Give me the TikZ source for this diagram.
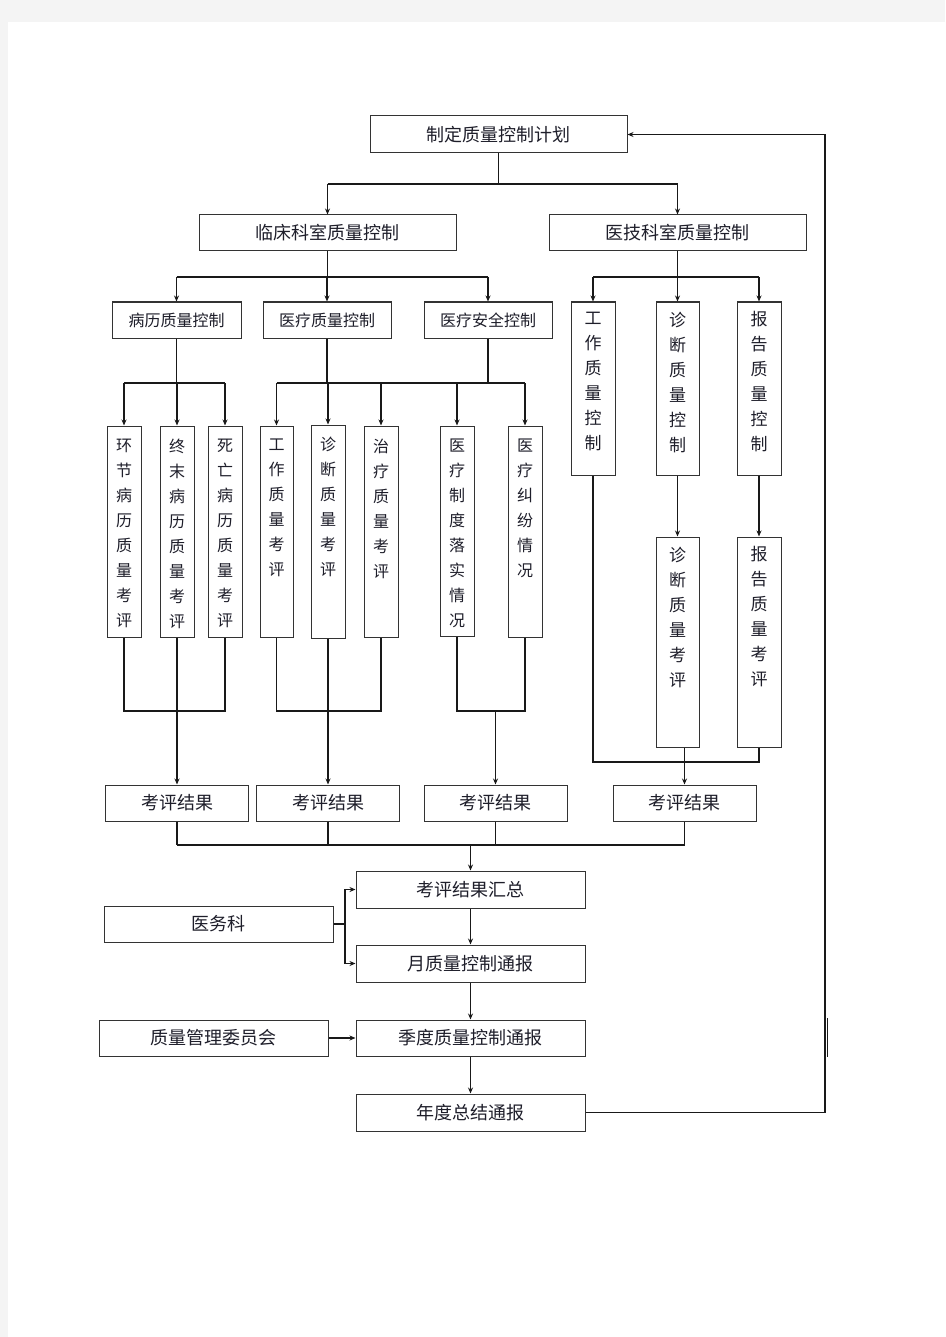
\documentclass[tikz,border=0pt]{standalone}
\usepackage{fontspec}
\setmainfont{Noto Sans CJK SC}
\usetikzlibrary{arrows.meta,calc}
\definecolor{pagegray}{HTML}{F4F4F4}
\definecolor{edge}{HTML}{333333}
\definecolor{ink}{HTML}{1E1E2A}
\begin{document}
\begin{tikzpicture}[x=1pt,y=-1pt,
  box/.style={draw=edge, line width=1pt, fill=white, inner sep=0pt, text=ink, font=\fontsize{18}{20}\selectfont},
  sbox/.style={box, font=\fontsize{16}{18}\selectfont},
  vbox/.style={draw=edge, line width=1pt, fill=white, inner sep=0pt},
  vtxt/.style={inner sep=0pt, align=center, text=ink, font=\fontsize{16}{25}\selectfont},
  conn/.style={line width=1.8pt, draw=black!90},
  thin/.style={line width=1.2pt, draw=black!90},
  arr/.style={conn, -{Stealth[length=6pt,width=5pt]}},
  tarr/.style={thin, -{Stealth[length=6pt,width=5pt]}},
]
\useasboundingbox (0,0) rectangle (945,1337);
\fill[pagegray] (0,0) rectangle (945,1337);
\fill[white] (8,22) rectangle (945,1337);

% horizontal boxes
\node[box, minimum width=257pt, minimum height=37pt] (plan) at (498.5,134.5) {制定质量控制计划};
\node[box, minimum width=257pt, minimum height=36pt] (clin) at (327.5,233) {临床科室质量控制};
\node[box, minimum width=257pt, minimum height=36pt] (tech) at (677.5,233) {医技科室质量控制};
\node[sbox, minimum width=129pt, minimum height=36pt] (bl) at (176.5,320) {病历质量控制};
\node[sbox, minimum width=128pt, minimum height=36pt] (yl) at (327,320) {医疗质量控制};
\node[sbox, minimum width=128pt, minimum height=36pt] (aq) at (488,320) {医疗安全控制};

% vertical boxes, left
\node[vbox, minimum width=34pt, minimum height=211pt] (v1) at (124,531.5) {};
\node[vbox, minimum width=34pt, minimum height=211pt] (v2) at (177,531.5) {};
\node[vbox, minimum width=34pt, minimum height=211pt] (v3) at (225,531.5) {};
\node[vbox, minimum width=33pt, minimum height=211pt] (v4) at (276.5,531.5) {};
\node[vbox, minimum width=34pt, minimum height=213pt] (v5) at (328,531.5) {};
\node[vbox, minimum width=34pt, minimum height=211pt] (v6) at (381,531.5) {};
\node[vbox, minimum width=34pt, minimum height=210pt] (v7) at (457,531) {};
\node[vbox, minimum width=34pt, minimum height=211pt] (v8) at (525,531.5) {};
\node[vtxt, anchor=north] (v1t) at ([yshift=-13pt]v1.north) {环\\节\\病\\历\\质\\量\\考\\评};
\node[vtxt, anchor=north] (v2t) at ([yshift=-13pt]v2.north) {终\\末\\病\\历\\质\\量\\考\\评};
\node[vtxt, anchor=north] (v3t) at ([yshift=-13pt]v3.north) {死\\亡\\病\\历\\质\\量\\考\\评};
\node[vtxt, anchor=north] (v4t) at ([yshift=-13pt]v4.north) {工\\作\\质\\量\\考\\评};
\node[vtxt, anchor=north] (v5t) at ([yshift=-12pt]v5.north) {诊\\断\\质\\量\\考\\评};
\node[vtxt, anchor=north] (v6t) at ([yshift=-13pt]v6.north) {治\\疗\\质\\量\\考\\评};
\node[vtxt, anchor=north] (v7t) at ([yshift=-13pt]v7.north) {医\\疗\\制\\度\\落\\实\\情\\况};
\node[vtxt, anchor=north] (v8t) at ([yshift=-13pt]v8.north) {医\\疗\\纠\\纷\\情\\况};

% vertical boxes, right
\node[vbox, minimum width=44pt, minimum height=173pt] (w1) at (593,388.5) {};
\node[vbox, minimum width=43pt, minimum height=173pt] (w2) at (677.5,388.5) {};
\node[vbox, minimum width=44pt, minimum height=173pt] (w3) at (759,388.5) {};
\node[vbox, minimum width=43pt, minimum height=210pt] (w4) at (677.5,642) {};
\node[vbox, minimum width=44pt, minimum height=210pt] (w5) at (759,642) {};
\node[vtxt, anchor=north, font=\fontsize{17}{25}\selectfont] (w1t) at ([yshift=-10pt]w1.north) {工\\作\\质\\量\\控\\制};
\node[vtxt, anchor=north, font=\fontsize{17}{25}\selectfont] (w2t) at ([yshift=-10pt]w2.north) {诊\\断\\质\\量\\控\\制};
\node[vtxt, anchor=north, font=\fontsize{17}{25}\selectfont] (w3t) at ([yshift=-10pt]w3.north) {报\\告\\质\\量\\控\\制};
\node[vtxt, anchor=north, font=\fontsize{17}{25}\selectfont] (w4t) at ([yshift=-10pt]w4.north) {诊\\断\\质\\量\\考\\评};
\node[vtxt, anchor=north, font=\fontsize{17}{25}\selectfont] (w5t) at ([yshift=-10pt]w5.north) {报\\告\\质\\量\\考\\评};

% result boxes
\node[box, minimum width=143pt, minimum height=36pt] (r1) at (177,803) {考评结果};
\node[box, minimum width=143pt, minimum height=36pt] (r2) at (328,803) {考评结果};
\node[box, minimum width=143pt, minimum height=36pt] (r3) at (495.5,803) {考评结果};
\node[box, minimum width=143pt, minimum height=36pt] (r4) at (684.5,803) {考评结果};

\node[box, minimum width=229pt, minimum height=37pt] (sum) at (470.5,889.5) {考评结果汇总};
\node[box, minimum width=229pt, minimum height=36pt] (ywk) at (218.5,924) {医务科};
\node[box, minimum width=229pt, minimum height=37pt] (month) at (470.5,963.5) {月质量控制通报};
\node[box, minimum width=229pt, minimum height=36pt] (qc) at (213.5,1038) {质量管理委员会};
\node[box, minimum width=229pt, minimum height=36pt] (quarter) at (470.5,1038) {季度质量控制通报};
\node[box, minimum width=229pt, minimum height=37pt] (year) at (470.5,1112.5) {年度总结通报};

% level 1
\coordinate (ja) at (0,184);
\draw[conn] (plan.south) -- (plan.south |- ja);
\draw[conn] (clin.north |- ja) -- (tech.north |- ja);
\draw[arr] (clin.north |- ja) -- (clin.north);
\draw[arr] (tech.north |- ja) -- (tech.north);

% level 2
\coordinate (jb) at (0,277);
\draw[conn] (clin.south) -- (clin.south |- jb);
\draw[conn] (bl.north |- jb) -- (aq.north |- jb);
\foreach \n in {bl,yl,aq} \draw[arr] (\n.north |- jb) -- (\n.north);
\draw[conn] (tech.south) -- (tech.south |- jb);
\draw[conn] (w1.north |- jb) -- (w3.north |- jb);
\foreach \n in {w1,w2,w3} \draw[arr] (\n.north |- jb) -- (\n.north);

% level 3
\coordinate (jc) at (0,383);
\draw[conn] (bl.south) -- (bl.south |- jc);
\draw[conn] (v1.north |- jc) -- (v3.north |- jc);
\foreach \n in {v1,v2,v3} \draw[arr] (\n.north |- jc) -- (\n.north);
\draw[conn] (yl.south) -- (yl.south |- jc);
\draw[conn] (aq.south) -- (aq.south |- jc);
\draw[conn] (v4.north |- jc) -- (v8.north |- jc);
\foreach \n in {v4,v5,v6,v7,v8} \draw[arr] (\n.north |- jc) -- (\n.north);

% right internal
\draw[arr] (w2.south) -- (w4.north);
\draw[arr] (w3.south) -- (w5.north);

% bottoms
\coordinate (jd) at (0,711);
\draw[conn] (v1.south) -- (v1.south |- jd) -- (v3.south |- jd) -- (v3.south);
\draw[arr] (v2.south) -- (r1.north);
\draw[conn] (v4.south) -- (v4.south |- jd) -- (v6.south |- jd) -- (v6.south);
\draw[arr] (v5.south) -- (r2.north);
\draw[conn] (v7.south) -- (v7.south |- jd) -- (v8.south |- jd) -- (v8.south);
\draw[arr] (r3.north |- jd) -- (r3.north);
\coordinate (je) at (0,762);
\draw[conn] (w1.south) -- (w1.south |- je) -- (w5.south |- je) -- (w5.south);
\draw[arr] (r4.north |- w4.south) -- (r4.north);

% results to summary
\coordinate (jf) at (0,845);
\foreach \n in {r1,r2,r3,r4} \draw[conn] (\n.south) -- (\n.south |- jf);
\draw[conn] (r1.south |- jf) -- (r4.south |- jf);
\draw[arr] (sum.north |- jf) -- (sum.north);

% 医务科
\coordinate (jg) at (345,0);
\draw[thin] (ywk.east) -- (jg |- ywk.east);
\draw[tarr] (jg |- ywk.east) |- (sum.west);
\draw[tarr] (jg |- ywk.east) |- (month.west);

\draw[arr] (sum.south) -- (month.north);
\draw[arr] (month.south) -- (quarter.north);
\draw[arr] (quarter.south) -- (year.north);
\draw[arr] (qc.east) -- (quarter.west);

% feedback loop
\coordinate (jh) at (825,0);
\draw[conn] (year.east) -- (jh |- year.east) -- (jh |- plan.east);
\draw[arr] (jh |- plan.east) -- (plan.east);

% stray mark at right
\coordinate (s1) at (827.5,1018);
\coordinate (s2) at (827.5,1057);
\draw[thin] (s1) -- (s2);
\end{tikzpicture}
\end{document}
